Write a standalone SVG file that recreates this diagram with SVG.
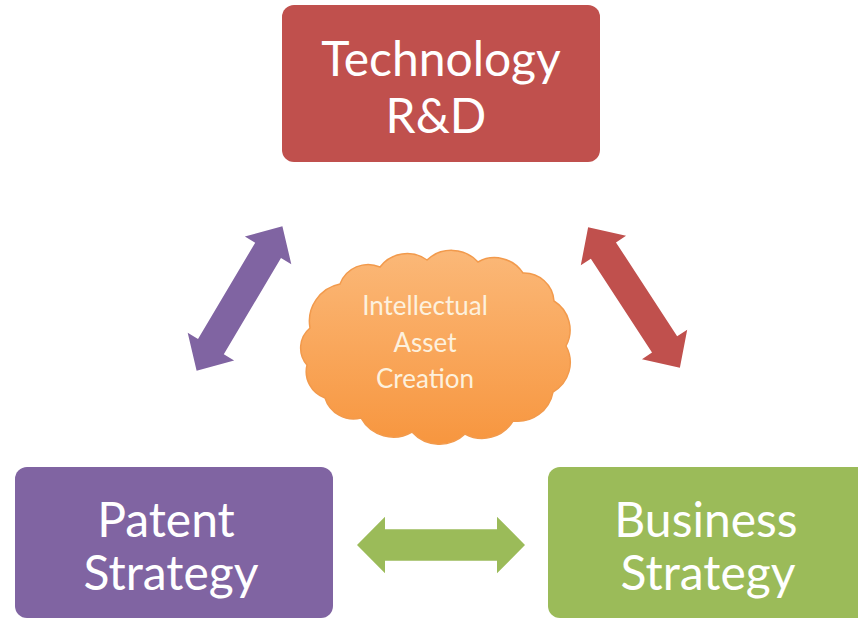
<svg xmlns="http://www.w3.org/2000/svg" width="858" height="621" viewBox="0 0 858 621">
<defs>
<linearGradient id="cloudGrad" x1="0" y1="0" x2="0" y2="1">
<stop offset="0" stop-color="#fbb878"/>
<stop offset="1" stop-color="#f7963f"/>
</linearGradient>
<path id="dblArrow" d="M -84,0 L -56,-27 L -56,-15 L 56,-15 L 56,-27 L 84,0 L 56,27 L 56,15 L -56,15 L -56,27 Z"/>
</defs>
<style>
.box-text{font-family:Lato,"Open Sans","Liberation Sans",sans-serif;font-size:48px;fill:#ffffff;text-anchor:middle}
.cloud-text{font-family:Lato,"Open Sans","Liberation Sans",sans-serif;font-size:26px;fill:#fdf1de;text-anchor:middle}
</style>
<rect width="858" height="621" fill="#ffffff"/>
<g id="connectors">
<use href="#dblArrow" fill="#8064a2" transform="translate(239.5,298.5) rotate(-59.3)"/>
<use href="#dblArrow" fill="#c0504d" transform="translate(634,297.5) rotate(56.9)"/>
<use href="#dblArrow" fill="#9bbb59" transform="translate(441,545) scale(1,1.05)"/>
</g>
<g id="tech">
<rect x="282" y="5" width="318" height="157" rx="12" fill="#c0504d"/>
<text class="box-text" x="441" y="76">Technology</text>
<text class="box-text" x="436" y="133">R&amp;D</text>
</g>
<g id="patent">
<rect x="15" y="467" width="318" height="151" rx="12" fill="#8064a2"/>
<text class="box-text" x="166" y="537">Patent</text>
<text class="box-text" x="171" y="590">Strategy</text>
</g>
<g id="business">
<rect x="548" y="467" width="330" height="151" rx="12" fill="#9bbb59"/>
<text class="box-text" x="706" y="537">Business</text>
<text class="box-text" x="708" y="590">Strategy</text>
</g>
<g id="cloud">
<path d="M 310,328 A 38 38 0 0 1 340,284 A 30 30 0 0 1 380,267 A 34 34 0 0 1 427,260 A 36 36 0 0 1 478,262 A 34 34 0 0 1 523,273 A 30 30 0 0 1 554,301 A 34 34 0 0 1 566,346 A 34 34 0 0 1 553,392 A 36 36 0 0 1 513,421 A 36 36 0 0 1 465,434 A 37 37 0 0 1 412,432 A 37 37 0 0 1 361,418 A 30 30 0 0 1 325,398 A 28 28 0 0 1 307,365 A 26 26 0 0 1 310,328 Z" fill="url(#cloudGrad)" stroke="#f29a4c" stroke-width="1.5"/>
<text class="cloud-text" x="425" y="315">Intellectual</text>
<text class="cloud-text" x="425" y="352">Asset</text>
<text class="cloud-text" x="425" y="388">Creation</text>
</g>
</svg>
